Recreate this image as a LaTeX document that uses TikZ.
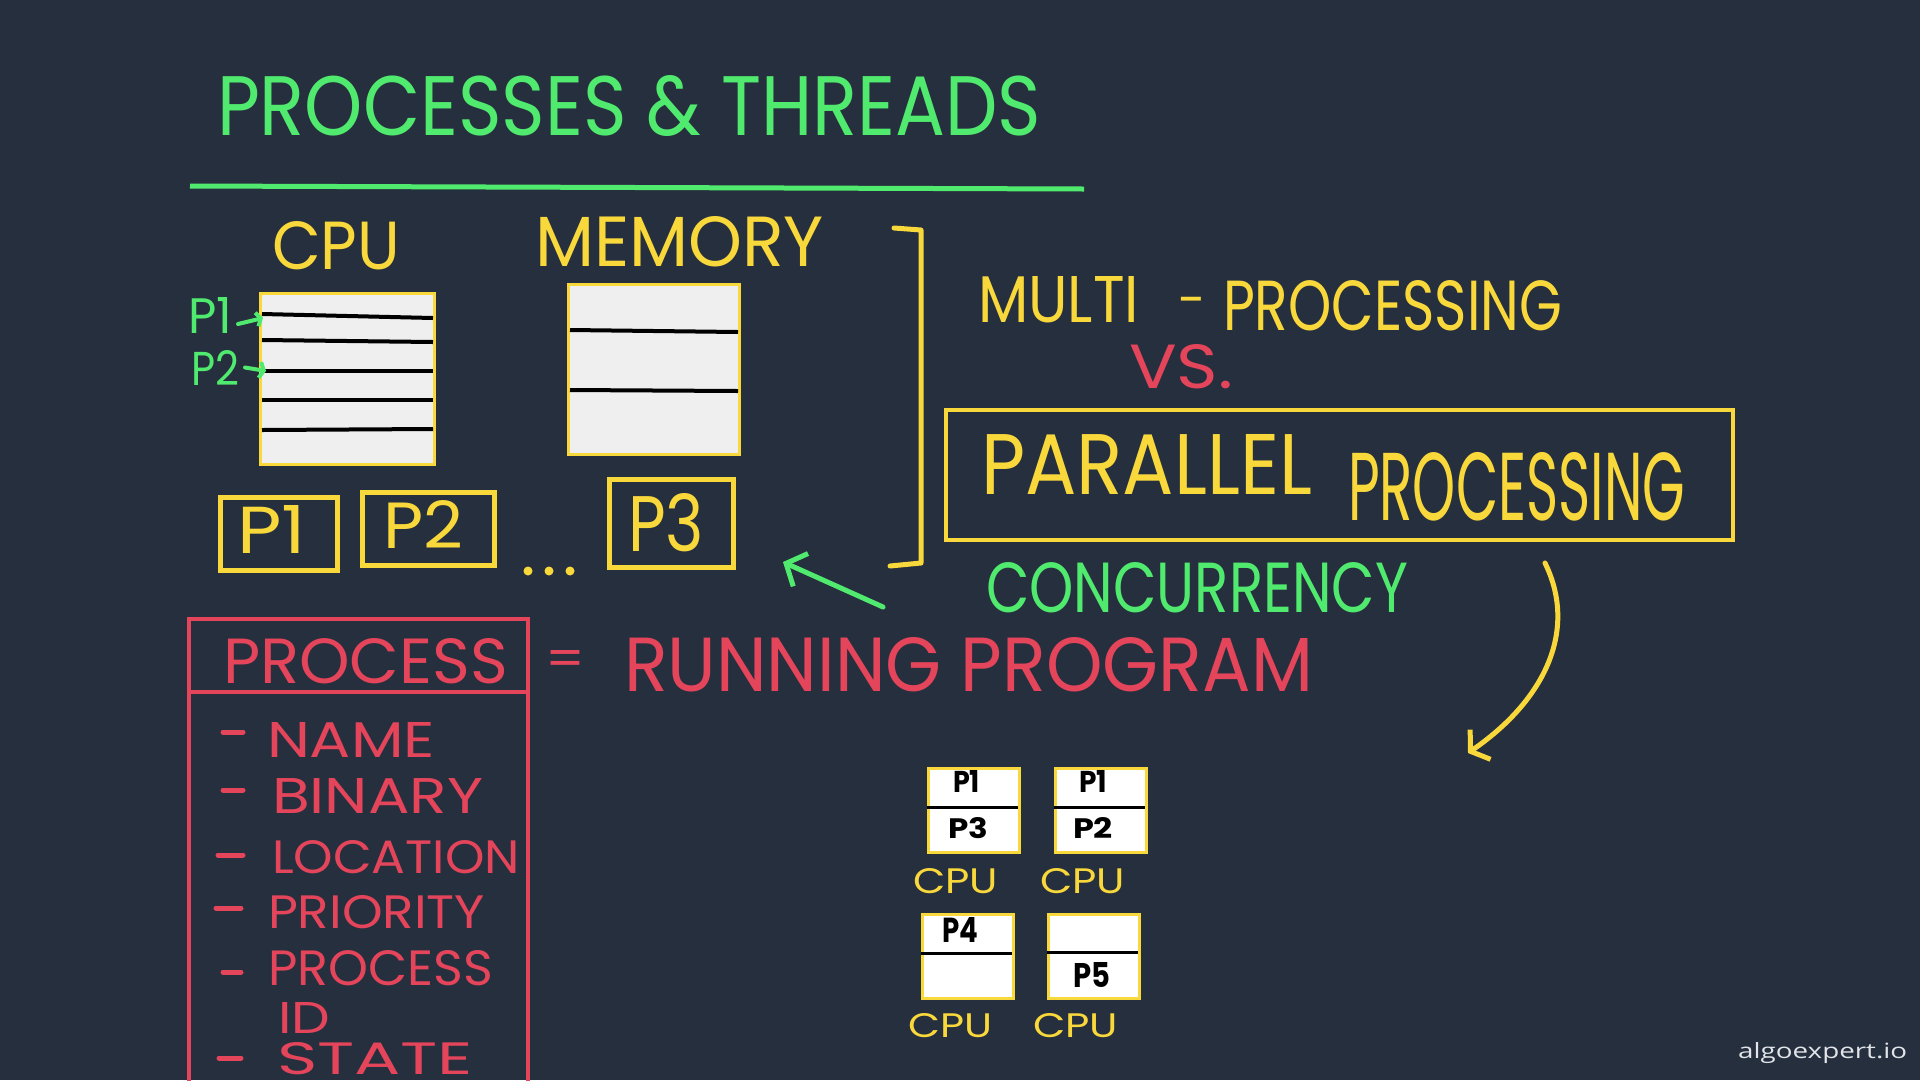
\documentclass[tikz,border=0pt]{standalone}
\usepackage{fontspec}
\setmainfont{Poppins}
\newfontfamily\wmfont{Open Sans}
\usepackage{graphicx}
\usetikzlibrary{arrows.meta}
\definecolor{bgc}{RGB}{38,47,62}
\definecolor{ylw}{RGB}{249,216,60}
\definecolor{grn}{RGB}{80,234,110}
\definecolor{rd}{RGB}{228,69,91}
\definecolor{boxfill}{RGB}{239,239,239}
\definecolor{wm}{RGB}{225,228,232}
\newcommand{\fitt}[3]{\resizebox{#1pt}{#2pt}{#3}}
\tikzset{
  txt/.style={inner sep=0pt, outer sep=0pt, anchor=north west},
  membox/.style={draw=ylw, fill=boxfill, line width=3pt, inner sep=0pt, anchor=north west},
  pbox/.style={draw=ylw, line width=5pt, inner sep=0pt, anchor=north west},
  cbox/.style={draw=ylw, fill=white, line width=3pt, inner sep=0pt, anchor=north west, minimum width=91pt, minimum height=84pt},
  blk/.style={black, line width=4pt},
  thin/.style={black, line width=3pt},
  dashmark/.style={rd, line width=5pt, line cap=round},
  pen/.style={line width=5pt, line cap=round, line join=round},
}
\begin{document}
\begin{tikzpicture}[x=1pt,y=-1pt]
\fill[bgc] (0,0) rectangle (1920,1080);
\useasboundingbox (0,0) rectangle (1920,1080);

% title
\node[txt,text=grn] (title) at (217,75) {\fitt{824}{60}{PROCESSES \& THREADS}};
\draw[grn, line width=5pt] (190,186) -- (1084,189);

% CPU and memory
\node[txt,text=ylw] (cpulbl) at (272,221) {\fitt{128}{48}{CPU}};
\node[txt,text=ylw] (memlbl) at (535,216) {\fitt{289}{50}{MEMORY}};
\node[membox, minimum width=174pt, minimum height=171pt] (cpu) at (259,292) {};
\draw[blk] (262,314) -- (433,318);
\draw[blk] (262,340) -- (433,342);
\draw[blk] (262,371) -- (433,371);
\draw[blk] (262,400) -- (433,400);
\draw[blk] (262,430) -- (433,429);
\node[membox, minimum width=171pt, minimum height=170pt] (mem) at (567,283) {};
\draw[blk] (570,330) -- (738,332);
\draw[blk] (570,390) -- (738,391);

% green markers
\node[txt,text=grn] (gp1) at (188,297) {\fitt{44}{36}{P1}};
\node[txt,text=grn] (gp2) at (191,350) {\fitt{48}{35}{P2}};
\coordinate (t1) at (263,318);
\coordinate (t2) at (266,371);
\draw[grn, pen, line width=4pt, -{Straight Barb[length=4pt,width=14pt]}] (gp1.east) ++(6,9) -- (t1);
\draw[grn, pen, line width=4pt, -{Straight Barb[length=4pt,width=16pt]}] (gp2.east) ++(6,0) -- (t2);

% process boxes
\node[pbox, minimum width=117pt, minimum height=73pt] (b1) at (218,495) {};
\node[pbox, minimum width=132pt, minimum height=73pt] (b2) at (360,490) {};
\node[pbox, minimum width=124pt, minimum height=88pt] (b3) at (607,477) {};
\node[txt,text=ylw] at (237,505) {\fitt{69}{48}{P1}};
\node[txt,text=ylw] at (383,500) {\fitt{80}{48}{P2}};
\node[txt,text=ylw] at (628,493) {\fitt{76}{58}{P3}};
\fill[ylw] (528,571) circle (4.5) (549,571) circle (4.5) (570,571) circle (4.5);

% bracket
\draw[ylw, pen] (894,228) -- (921,230) -- (921,563) -- (890,566);

% right side texts
\node[txt,text=ylw] (multi) at (978,276) {\fitt{161}{46}{MULTI}};
\node[anchor=base west, inner sep=0pt, text=ylw, font=\fontsize{50}{50}\selectfont] (mdash) at (1178,317) {-};
\node[txt,text=ylw] (mproc) at (1223,280) {\fitt{339}{50}{PROCESSING}};
\node[txt,text=rd] (vs) at (1129,344) {\fitt{104}{44}{VS.}};
\node[draw=ylw, line width=3.5pt, inner sep=0pt, anchor=north west, minimum width=787pt, minimum height=130pt] (par) at (944,408) {};
\node[txt,text=ylw] (parw) at (981,434) {\fitt{331}{60}{PARALLEL}};
\node[txt,text=ylw] (procw) at (1348,452) {\fitt{337}{68}{PROCESSING}};
\node[txt,text=grn] (conc) at (986,562) {\fitt{422}{50}{CONCURRENCY}};

% arrows
\coordinate (ya) at (1545,563);
\coordinate (yb) at (1468,753);
\draw[ylw, pen, -{Straight Barb[length=12pt,width=36pt]}] (ya) .. controls (1578,630) and (1545,700) .. (yb);
\coordinate (ga) at (883,607);
\coordinate (gb) at (783,562);
\draw[grn, pen, -{Straight Barb[length=16pt,width=36pt]}] (ga) -- (gb);

% process table
\draw[rd, line width=3.5pt] (189,1100) -- (189,619) -- (528,619) -- (528,1100);
\draw[rd, line width=3.5pt] (189,692) -- (528,692);
\node[txt,text=rd] (proc) at (223,638) {\fitt{285}{45}{PROCESS}};
\node[txt,text=rd] (eq) at (545,650) {\fitt{40}{26}{=}};
\node[txt,text=rd] (run) at (624,637) {\fitt{689}{54}{RUNNING PROGRAM}};

\draw[dashmark] (223,732) -- (243,732);
\node[txt,text=rd] at (267,722) {\fitt{168}{35}{NAME}};
\draw[dashmark] (223,790) -- (243,790);
\node[txt,text=rd] at (272,778) {\fitt{211}{35}{BINARY}};
\draw[dashmark] (218,855) -- (243,855);
\node[txt,text=rd] at (272,840) {\fitt{248}{33}{LOCATION}};
\draw[dashmark] (216,908) -- (241,908);
\node[txt,text=rd] at (268,895) {\fitt{217}{33}{PRIORITY}};
\draw[dashmark] (223,972) -- (241,972);
\node[txt,text=rd] at (268,950) {\fitt{225}{35}{PROCESS}};
\node[txt,text=rd] at (278,1002) {\fitt{52}{31}{ID}};
\draw[dashmark] (219,1058) -- (241,1058);
\node[txt,text=rd] at (277,1042) {\fitt{196}{32}{STATE}};

% small cpus
\node[cbox] (c1) at (927,767) {};
\draw[thin] (927,807) -- (1018,807);
\node[txt] at (953,770) {\fitt{27}{22}{\bfseries P1}};
\node[txt] at (948,817) {\fitt{40}{21}{\bfseries P3}};
\node[cbox] (c2) at (1054,767) {};
\draw[thin] (1054,807) -- (1145,807);
\node[txt] at (1079,770) {\fitt{28}{22}{\bfseries P1}};
\node[txt] at (1073,817) {\fitt{40}{21}{\bfseries P2}};
\node[cbox] (c3) at (921,913) {};
\draw[thin] (921,953) -- (1012,953);
\node[txt] at (942,917) {\fitt{36}{25}{\bfseries P4}};
\node[cbox] (c4) at (1047,913) {};
\draw[thin] (1047,952) -- (1138,952);
\node[txt] at (1073,962) {\fitt{37}{25}{\bfseries P5}};
\node[txt,text=ylw] at (913,868) {\fitt{85}{25}{CPU}};
\node[txt,text=ylw] at (1040,868) {\fitt{85}{25}{CPU}};
\node[txt,text=ylw] at (908,1013) {\fitt{84}{24}{CPU}};
\node[txt,text=ylw] at (1033,1013) {\fitt{85}{24}{CPU}};

% watermark
\node[inner sep=0pt, anchor=base west, text=wm] (wmk) at (1738,1058) {\fitt{169}{16}{\wmfont algoexpert.io}};
\end{tikzpicture}
\end{document}
